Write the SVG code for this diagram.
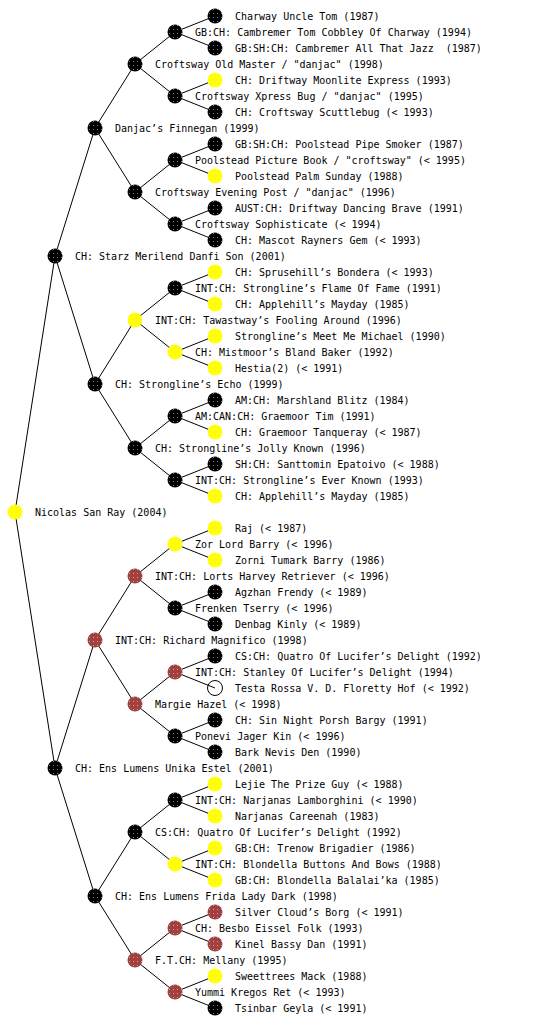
<svg xmlns="http://www.w3.org/2000/svg" width="560" height="1024" viewBox="0 0 560 1024">
<defs>
<pattern id="dots" width="4" height="4" patternUnits="userSpaceOnUse"><rect x="1" y="1" width="1" height="1" fill="#fff"/></pattern>
<style>
text{font-family:"DejaVu Sans Mono","Liberation Mono",monospace;font-size:10px;fill:#000}
.c line{stroke:#000;stroke-width:1}
.n circle{r:7.5px}
.k{fill:#000}
.y{fill:#ffff00}
.b{fill:#a04040}
.w{fill:none;stroke:#000;stroke-width:1}
.d{fill:url(#dots);opacity:0.5}
</style>
</defs>
<rect width="560" height="1024" fill="#fff"/>
<g id="connectors" class="c">
<line x1="15" y1="512" x2="55" y2="256"/><line x1="15" y1="512" x2="55" y2="768"/>
<line x1="55" y1="256" x2="95" y2="128"/><line x1="55" y1="256" x2="95" y2="384"/>
<line x1="55" y1="768" x2="95" y2="640"/><line x1="55" y1="768" x2="95" y2="896"/>
<line x1="95" y1="128" x2="135" y2="64"/><line x1="95" y1="128" x2="135" y2="192"/>
<line x1="95" y1="384" x2="135" y2="320"/><line x1="95" y1="384" x2="135" y2="448"/>
<line x1="95" y1="640" x2="135" y2="576"/><line x1="95" y1="640" x2="135" y2="704"/>
<line x1="95" y1="896" x2="135" y2="832"/><line x1="95" y1="896" x2="135" y2="960"/>
<line x1="135" y1="64" x2="175" y2="32"/><line x1="135" y1="64" x2="175" y2="96"/>
<line x1="135" y1="192" x2="175" y2="160"/><line x1="135" y1="192" x2="175" y2="224"/>
<line x1="135" y1="320" x2="175" y2="288"/><line x1="135" y1="320" x2="175" y2="352"/>
<line x1="135" y1="448" x2="175" y2="416"/><line x1="135" y1="448" x2="175" y2="480"/>
<line x1="135" y1="576" x2="175" y2="544"/><line x1="135" y1="576" x2="175" y2="608"/>
<line x1="135" y1="704" x2="175" y2="672"/><line x1="135" y1="704" x2="175" y2="736"/>
<line x1="135" y1="832" x2="175" y2="800"/><line x1="135" y1="832" x2="175" y2="864"/>
<line x1="135" y1="960" x2="175" y2="928"/><line x1="135" y1="960" x2="175" y2="992"/>
<line x1="175" y1="32" x2="215" y2="16"/><line x1="175" y1="32" x2="215" y2="48"/>
<line x1="175" y1="96" x2="215" y2="80"/><line x1="175" y1="96" x2="215" y2="112"/>
<line x1="175" y1="160" x2="215" y2="144"/><line x1="175" y1="160" x2="215" y2="176"/>
<line x1="175" y1="224" x2="215" y2="208"/><line x1="175" y1="224" x2="215" y2="240"/>
<line x1="175" y1="288" x2="215" y2="272"/><line x1="175" y1="288" x2="215" y2="304"/>
<line x1="175" y1="352" x2="215" y2="336"/><line x1="175" y1="352" x2="215" y2="368"/>
<line x1="175" y1="416" x2="215" y2="400"/><line x1="175" y1="416" x2="215" y2="432"/>
<line x1="175" y1="480" x2="215" y2="464"/><line x1="175" y1="480" x2="215" y2="496"/>
<line x1="175" y1="544" x2="215" y2="528"/><line x1="175" y1="544" x2="215" y2="560"/>
<line x1="175" y1="608" x2="215" y2="592"/><line x1="175" y1="608" x2="215" y2="624"/>
<line x1="175" y1="672" x2="215" y2="656"/><line x1="175" y1="672" x2="215" y2="688"/>
<line x1="175" y1="736" x2="215" y2="720"/><line x1="175" y1="736" x2="215" y2="752"/>
<line x1="175" y1="800" x2="215" y2="784"/><line x1="175" y1="800" x2="215" y2="816"/>
<line x1="175" y1="864" x2="215" y2="848"/><line x1="175" y1="864" x2="215" y2="880"/>
<line x1="175" y1="928" x2="215" y2="912"/><line x1="175" y1="928" x2="215" y2="944"/>
<line x1="175" y1="992" x2="215" y2="976"/><line x1="175" y1="992" x2="215" y2="1008"/>
</g>
<g id="n0" class="n"><circle cx="15" cy="512" class="y"/><circle cx="15" cy="512" class="d"/><text x="35" y="516">Nicolas San Ray (2004)</text></g>
<g id="n1a" class="n"><circle cx="55" cy="256" class="k"/><circle cx="55" cy="256" class="d"/><text x="75" y="260">CH: Starz Merilend Danfi Son (2001)</text></g>
<g id="n1b" class="n"><circle cx="55" cy="768" class="k"/><circle cx="55" cy="768" class="d"/><text x="75" y="772">CH: Ens Lumens Unika Estel (2001)</text></g>
<g id="n2a" class="n"><circle cx="95" cy="128" class="k"/><circle cx="95" cy="128" class="d"/><text x="115" y="132">Danjac’s Finnegan (1999)</text></g>
<g id="n2b" class="n"><circle cx="95" cy="384" class="k"/><circle cx="95" cy="384" class="d"/><text x="115" y="388">CH: Strongline’s Echo (1999)</text></g>
<g id="n2c" class="n"><circle cx="95" cy="640" class="b"/><circle cx="95" cy="640" class="d"/><text x="115" y="644">INT:CH: Richard Magnifico (1998)</text></g>
<g id="n2d" class="n"><circle cx="95" cy="896" class="k"/><circle cx="95" cy="896" class="d"/><text x="115" y="900">CH: Ens Lumens Frida Lady Dark (1998)</text></g>
<g id="n3a" class="n"><circle cx="135" cy="64" class="k"/><circle cx="135" cy="64" class="d"/><text x="155" y="68">Croftsway Old Master / "danjac" (1998)</text></g>
<g id="n3b" class="n"><circle cx="135" cy="192" class="k"/><circle cx="135" cy="192" class="d"/><text x="155" y="196">Croftsway Evening Post / "danjac" (1996)</text></g>
<g id="n3c" class="n"><circle cx="135" cy="320" class="y"/><circle cx="135" cy="320" class="d"/><text x="155" y="324">INT:CH: Tawastway’s Fooling Around (1996)</text></g>
<g id="n3d" class="n"><circle cx="135" cy="448" class="k"/><circle cx="135" cy="448" class="d"/><text x="155" y="452">CH: Strongline’s Jolly Known (1996)</text></g>
<g id="n3e" class="n"><circle cx="135" cy="576" class="b"/><circle cx="135" cy="576" class="d"/><text x="155" y="580">INT:CH: Lorts Harvey Retriever (&lt; 1996)</text></g>
<g id="n3f" class="n"><circle cx="135" cy="704" class="b"/><circle cx="135" cy="704" class="d"/><text x="155" y="708">Margie Hazel (&lt; 1998)</text></g>
<g id="n3g" class="n"><circle cx="135" cy="832" class="k"/><circle cx="135" cy="832" class="d"/><text x="155" y="836">CS:CH: Quatro Of Lucifer’s Delight (1992)</text></g>
<g id="n3h" class="n"><circle cx="135" cy="960" class="b"/><circle cx="135" cy="960" class="d"/><text x="155" y="964">F.T.CH: Mellany (1995)</text></g>
<g id="n4a" class="n"><circle cx="175" cy="32" class="k"/><circle cx="175" cy="32" class="d"/><text x="195" y="36">GB:CH: Cambremer Tom Cobbley Of Charway (1994)</text></g>
<g id="n4b" class="n"><circle cx="175" cy="96" class="k"/><circle cx="175" cy="96" class="d"/><text x="195" y="100">Croftsway Xpress Bug / "danjac" (1995)</text></g>
<g id="n4c" class="n"><circle cx="175" cy="160" class="k"/><circle cx="175" cy="160" class="d"/><text x="195" y="164">Poolstead Picture Book / "croftsway" (&lt; 1995)</text></g>
<g id="n4d" class="n"><circle cx="175" cy="224" class="k"/><circle cx="175" cy="224" class="d"/><text x="195" y="228">Croftsway Sophisticate (&lt; 1994)</text></g>
<g id="n4e" class="n"><circle cx="175" cy="288" class="k"/><circle cx="175" cy="288" class="d"/><text x="195" y="292">INT:CH: Strongline’s Flame Of Fame (1991)</text></g>
<g id="n4f" class="n"><circle cx="175" cy="352" class="y"/><circle cx="175" cy="352" class="d"/><text x="195" y="356">CH: Mistmoor’s Bland Baker (1992)</text></g>
<g id="n4g" class="n"><circle cx="175" cy="416" class="k"/><circle cx="175" cy="416" class="d"/><text x="195" y="420">AM:CAN:CH: Graemoor Tim (1991)</text></g>
<g id="n4h" class="n"><circle cx="175" cy="480" class="k"/><circle cx="175" cy="480" class="d"/><text x="195" y="484">INT:CH: Strongline’s Ever Known (1993)</text></g>
<g id="n4i" class="n"><circle cx="175" cy="544" class="y"/><circle cx="175" cy="544" class="d"/><text x="195" y="548">Zor Lord Barry (&lt; 1996)</text></g>
<g id="n4j" class="n"><circle cx="175" cy="608" class="k"/><circle cx="175" cy="608" class="d"/><text x="195" y="612">Frenken Tserry (&lt; 1996)</text></g>
<g id="n4k" class="n"><circle cx="175" cy="672" class="b"/><circle cx="175" cy="672" class="d"/><text x="195" y="676">INT:CH: Stanley Of Lucifer’s Delight (1994)</text></g>
<g id="n4l" class="n"><circle cx="175" cy="736" class="k"/><circle cx="175" cy="736" class="d"/><text x="195" y="740">Ponevi Jager Kin (&lt; 1996)</text></g>
<g id="n4m" class="n"><circle cx="175" cy="800" class="k"/><circle cx="175" cy="800" class="d"/><text x="195" y="804">INT:CH: Narjanas Lamborghini (&lt; 1990)</text></g>
<g id="n4n" class="n"><circle cx="175" cy="864" class="y"/><circle cx="175" cy="864" class="d"/><text x="195" y="868">INT:CH: Blondella Buttons And Bows (1988)</text></g>
<g id="n4o" class="n"><circle cx="175" cy="928" class="b"/><circle cx="175" cy="928" class="d"/><text x="195" y="932">CH: Besbo Eissel Folk (1993)</text></g>
<g id="n4p" class="n"><circle cx="175" cy="992" class="b"/><circle cx="175" cy="992" class="d"/><text x="195" y="996">Yummi Kregos Ret (&lt; 1993)</text></g>
<g id="n5_00" class="n"><circle cx="215" cy="16" class="k"/><circle cx="215" cy="16" class="d"/><text x="235" y="20">Charway Uncle Tom (1987)</text></g>
<g id="n5_01" class="n"><circle cx="215" cy="48" class="k"/><circle cx="215" cy="48" class="d"/><text x="235" y="52" xml:space="preserve">GB:SH:CH: Cambremer All That Jazz  (1987)</text></g>
<g id="n5_02" class="n"><circle cx="215" cy="80" class="y"/><circle cx="215" cy="80" class="d"/><text x="235" y="84">CH: Driftway Moonlite Express (1993)</text></g>
<g id="n5_03" class="n"><circle cx="215" cy="112" class="k"/><circle cx="215" cy="112" class="d"/><text x="235" y="116">CH: Croftsway Scuttlebug (&lt; 1993)</text></g>
<g id="n5_04" class="n"><circle cx="215" cy="144" class="k"/><circle cx="215" cy="144" class="d"/><text x="235" y="148">GB:SH:CH: Poolstead Pipe Smoker (1987)</text></g>
<g id="n5_05" class="n"><circle cx="215" cy="176" class="y"/><circle cx="215" cy="176" class="d"/><text x="235" y="180">Poolstead Palm Sunday (1988)</text></g>
<g id="n5_06" class="n"><circle cx="215" cy="208" class="k"/><circle cx="215" cy="208" class="d"/><text x="235" y="212">AUST:CH: Driftway Dancing Brave (1991)</text></g>
<g id="n5_07" class="n"><circle cx="215" cy="240" class="k"/><circle cx="215" cy="240" class="d"/><text x="235" y="244">CH: Mascot Rayners Gem (&lt; 1993)</text></g>
<g id="n5_08" class="n"><circle cx="215" cy="272" class="y"/><circle cx="215" cy="272" class="d"/><text x="235" y="276">CH: Sprusehill’s Bondera (&lt; 1993)</text></g>
<g id="n5_09" class="n"><circle cx="215" cy="304" class="y"/><circle cx="215" cy="304" class="d"/><text x="235" y="308">CH: Applehill’s Mayday (1985)</text></g>
<g id="n5_10" class="n"><circle cx="215" cy="336" class="y"/><circle cx="215" cy="336" class="d"/><text x="235" y="340">Strongline’s Meet Me Michael (1990)</text></g>
<g id="n5_11" class="n"><circle cx="215" cy="368" class="y"/><circle cx="215" cy="368" class="d"/><text x="235" y="372">Hestia(2) (&lt; 1991)</text></g>
<g id="n5_12" class="n"><circle cx="215" cy="400" class="k"/><circle cx="215" cy="400" class="d"/><text x="235" y="404">AM:CH: Marshland Blitz (1984)</text></g>
<g id="n5_13" class="n"><circle cx="215" cy="432" class="y"/><circle cx="215" cy="432" class="d"/><text x="235" y="436">CH: Graemoor Tanqueray (&lt; 1987)</text></g>
<g id="n5_14" class="n"><circle cx="215" cy="464" class="k"/><circle cx="215" cy="464" class="d"/><text x="235" y="468">SH:CH: Santtomin Epatoivo (&lt; 1988)</text></g>
<g id="n5_15" class="n"><circle cx="215" cy="496" class="y"/><circle cx="215" cy="496" class="d"/><text x="235" y="500">CH: Applehill’s Mayday (1985)</text></g>
<g id="n5_16" class="n"><circle cx="215" cy="528" class="y"/><circle cx="215" cy="528" class="d"/><text x="235" y="532">Raj (&lt; 1987)</text></g>
<g id="n5_17" class="n"><circle cx="215" cy="560" class="y"/><circle cx="215" cy="560" class="d"/><text x="235" y="564">Zorni Tumark Barry (1986)</text></g>
<g id="n5_18" class="n"><circle cx="215" cy="592" class="k"/><circle cx="215" cy="592" class="d"/><text x="235" y="596">Agzhan Frendy (&lt; 1989)</text></g>
<g id="n5_19" class="n"><circle cx="215" cy="624" class="k"/><circle cx="215" cy="624" class="d"/><text x="235" y="628">Denbag Kinly (&lt; 1989)</text></g>
<g id="n5_20" class="n"><circle cx="215" cy="656" class="k"/><circle cx="215" cy="656" class="d"/><text x="235" y="660">CS:CH: Quatro Of Lucifer’s Delight (1992)</text></g>
<g id="n5_21" class="n"><circle cx="215" cy="688" class="w"/><text x="235" y="692">Testa Rossa V. D. Floretty Hof (&lt; 1992)</text></g>
<g id="n5_22" class="n"><circle cx="215" cy="720" class="k"/><circle cx="215" cy="720" class="d"/><text x="235" y="724">CH: Sin Night Porsh Bargy (1991)</text></g>
<g id="n5_23" class="n"><circle cx="215" cy="752" class="k"/><circle cx="215" cy="752" class="d"/><text x="235" y="756">Bark Nevis Den (1990)</text></g>
<g id="n5_24" class="n"><circle cx="215" cy="784" class="y"/><circle cx="215" cy="784" class="d"/><text x="235" y="788">Lejie The Prize Guy (&lt; 1988)</text></g>
<g id="n5_25" class="n"><circle cx="215" cy="816" class="y"/><circle cx="215" cy="816" class="d"/><text x="235" y="820">Narjanas Careenah (1983)</text></g>
<g id="n5_26" class="n"><circle cx="215" cy="848" class="y"/><circle cx="215" cy="848" class="d"/><text x="235" y="852">GB:CH: Trenow Brigadier (1986)</text></g>
<g id="n5_27" class="n"><circle cx="215" cy="880" class="y"/><circle cx="215" cy="880" class="d"/><text x="235" y="884">GB:CH: Blondella Balalai’ka (1985)</text></g>
<g id="n5_28" class="n"><circle cx="215" cy="912" class="b"/><circle cx="215" cy="912" class="d"/><text x="235" y="916">Silver Cloud’s Borg (&lt; 1991)</text></g>
<g id="n5_29" class="n"><circle cx="215" cy="944" class="b"/><circle cx="215" cy="944" class="d"/><text x="235" y="948">Kinel Bassy Dan (1991)</text></g>
<g id="n5_30" class="n"><circle cx="215" cy="976" class="y"/><circle cx="215" cy="976" class="d"/><text x="235" y="980">Sweettrees Mack (1988)</text></g>
<g id="n5_31" class="n"><circle cx="215" cy="1008" class="k"/><circle cx="215" cy="1008" class="d"/><text x="235" y="1012">Tsinbar Geyla (&lt; 1991)</text></g>
</svg>
